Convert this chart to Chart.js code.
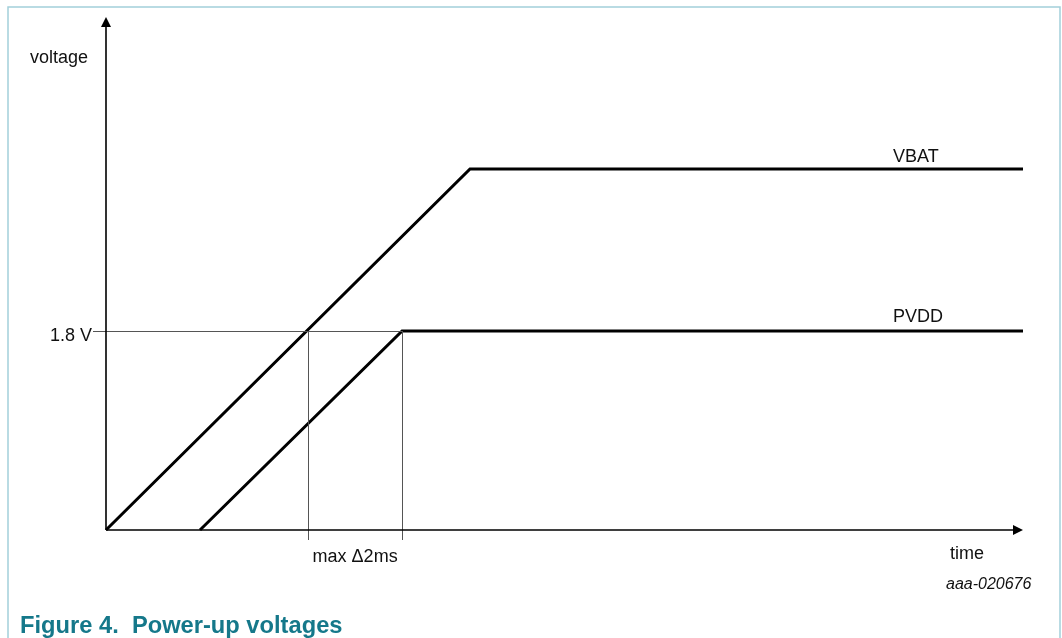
<!DOCTYPE html>
<html>
<head>
<meta charset="utf-8">
<script src="https://cdn.jsdelivr.net/npm/chart.js@4"></script>
<style>
  html, body { margin: 0; padding: 0; background: #ffffff; }
  canvas { display: block; }
</style>
</head>
<body>
<canvas id="c" width="1062" height="638"></canvas>
<script>
// ---- data (time in ms, voltage in V) ----
const vbatTime = [0, 7.745, 19.51];
const vbatVolt = [0, 3.265, 3.265];
const pvddTime = [2, 6.3, 19.51];
const pvddVolt = [0, 1.8, 1.8];
const thresholdVolt = 1.8;
const thresholdLabel = '1.8 V';
const markerTimes = [4.3, 6.3];
const markerLabel = 'max Δ2ms';
const seriesNames = ['VBAT', 'PVDD'];
const axisTitles = { y: 'voltage', x: 'time' };
const figureId = 'aaa-020676';
const caption = 'Figure 4.  Power-up voltages';
const xMax = 19.51;
const yMax = 4.64;

const FONT = '"Liberation Sans", Arial, sans-serif';

const decor = {
  id: 'decor',
  afterDatasetsDraw(chart) {
    const ctx = chart.ctx;
    const xs = chart.scales.x, ys = chart.scales.y;
    const x0 = xs.getPixelForValue(0), y0 = ys.getPixelForValue(0);
    const xEnd = xs.getPixelForValue(xMax), yTop = ys.getPixelForValue(yMax);
    const yTh = ys.getPixelForValue(thresholdVolt);
    ctx.save();
    // frame
    ctx.strokeStyle = '#a3d0da';
    ctx.lineWidth = 1.5;
    ctx.beginPath();
    ctx.moveTo(8, 638); ctx.lineTo(8, 7); ctx.lineTo(1060, 7); ctx.lineTo(1060, 638);
    ctx.stroke();

    // threshold line + tick
    ctx.strokeStyle = '#555';
    ctx.lineWidth = 1;
    ctx.beginPath();
    ctx.moveTo(x0 - 13, Math.round(yTh) + 0.5);
    ctx.lineTo(xs.getPixelForValue(markerTimes[1]), Math.round(yTh) + 0.5);
    ctx.stroke();
    // marker verticals
    markerTimes.forEach(t => {
      const px = Math.round(xs.getPixelForValue(t)) + 0.5;
      ctx.beginPath();
      ctx.moveTo(px, yTh);
      ctx.lineTo(px, y0 + 10);
      ctx.stroke();
    });

    // axes
    ctx.strokeStyle = '#000';
    ctx.fillStyle = '#000';
    ctx.lineWidth = 1.6;
    ctx.beginPath();
    ctx.moveTo(x0, y0); ctx.lineTo(x0, yTop + 8);
    ctx.moveTo(x0, y0); ctx.lineTo(xEnd - 8, y0);
    ctx.stroke();
    // arrow heads
    ctx.beginPath();
    ctx.moveTo(x0, yTop); ctx.lineTo(x0 - 5, yTop + 10); ctx.lineTo(x0 + 5, yTop + 10); ctx.closePath();
    ctx.fill();
    ctx.beginPath();
    ctx.moveTo(xEnd, y0); ctx.lineTo(xEnd - 10, y0 - 5); ctx.lineTo(xEnd - 10, y0 + 5); ctx.closePath();
    ctx.fill();

    // texts
    ctx.fillStyle = '#111';
    ctx.textBaseline = 'alphabetic';
    ctx.font = '18px ' + FONT;
    ctx.textAlign = 'left';
    ctx.fillText(axisTitles.y, 30, 63);
    ctx.fillText(axisTitles.x, 950, 559);
    ctx.fillText(seriesNames[0], 893, 162);
    ctx.fillText(seriesNames[1], 893, 322);
    ctx.textAlign = 'right';
    ctx.fillText(thresholdLabel, 92, 341);
    ctx.textAlign = 'center';
    const mid = (xs.getPixelForValue(markerTimes[0]) + xs.getPixelForValue(markerTimes[1])) / 2;
    ctx.fillText(markerLabel, mid, 562);
    ctx.textAlign = 'left';
    ctx.font = 'italic 16px ' + FONT;
    ctx.fillText(figureId, 946, 589);
    ctx.font = 'bold 23.7px ' + FONT;
    ctx.fillStyle = '#15788a';
    ctx.fillText(caption, 20, 633);
    ctx.restore();
  }
};

new Chart(document.getElementById('c'), {
  type: 'line',
  data: {
    datasets: [
      {
        label: seriesNames[0],
        data: vbatTime.map((t, i) => ({ x: t, y: vbatVolt[i] })),
        borderColor: '#000', borderWidth: 3, pointRadius: 0, tension: 0, fill: false,
        borderJoinStyle: 'miter', borderCapStyle: 'butt'
      },
      {
        label: seriesNames[1],
        data: pvddTime.map((t, i) => ({ x: t, y: pvddVolt[i] })),
        borderColor: '#000', borderWidth: 3, pointRadius: 0, tension: 0, fill: false,
        borderJoinStyle: 'miter', borderCapStyle: 'butt'
      }
    ]
  },
  options: {
    responsive: false,
    animation: false,
    devicePixelRatio: 1,
    clip: false,
    layout: { padding: { left: 106, right: 39, top: 17, bottom: 108 } },
    scales: {
      x: { type: 'linear', min: 0, max: xMax, display: false },
      y: { type: 'linear', min: 0, max: yMax, display: false }
    },
    plugins: { legend: { display: false }, tooltip: { enabled: false } }
  },
  plugins: [decor]
});
</script>
</body>
</html>
